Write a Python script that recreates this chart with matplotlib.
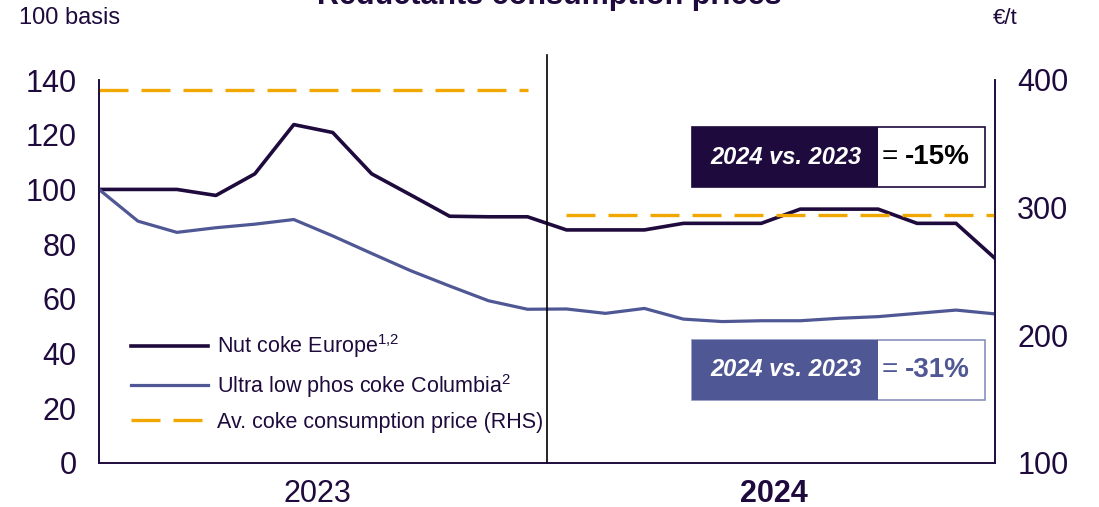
"""
Reductants consumption prices: indexed coke prices vs. average consumption price
"""
import matplotlib
matplotlib.use("Agg")
import matplotlib.pyplot as plt
from matplotlib.patches import Rectangle

plt.rcParams['font.family'] = ['Liberation Sans', 'DejaVu Sans']

# Data
months = list(range(24))  # Jan 2023 .. Dec 2024
nut_coke_europe = [100, 100, 100, 97.8, 105.7, 123.7, 120.8, 105.7, 98, 90.2, 90, 90,
                   85.2, 85.2, 85.2, 87.6, 87.6, 87.6, 92.8, 92.8, 92.8, 87.6, 87.6, 74.8]
ulp_coke_columbia = [100, 88.4, 84.3, 86, 87.3, 89, 83, 76.6, 70.3, 64.7, 59.3, 56.2,
                     56.3, 54.7, 56.5, 52.6, 51.7, 52, 52, 52.9, 53.5, 54.7, 55.9, 54.5]
avg_price_2023 = 392
avg_price_2024 = 294.5
years = ['2023', '2024']
change_nut = '-15%'
change_ulp = '-31%'

DARK = '#1E0A3C'
BLUE = '#4F5794'
ORANGE = '#F0A800'

fig = plt.figure(figsize=(10.99, 5.07), dpi=100)
ax = fig.add_axes([99 / 1099, 1 - 463 / 507, 896 / 1099, 383 / 507])
ax2 = ax.twinx()

ax.plot(months, nut_coke_europe, color=DARK, lw=2.6, label=r'Nut coke Europe$^{\mathregular{1{,}2}}$',
        zorder=3)
ax.plot(months, ulp_coke_columbia, color=BLUE, lw=2.3, label=r'Ultra low phos coke Columbia$^{\mathregular{2}}$',
        zorder=3)
# dashed RHS series, one level per year
ax2.plot(months[:12], [avg_price_2023] * 12, color=ORANGE, lw=2.4, dashes=[8.7, 3.9],
         label='Av. coke consumption price (RHS)')
ax2.plot(months[12:], [avg_price_2024] * 12, color=ORANGE, lw=2.4, dashes=[8.7, 3.9])

ax.set_xlim(0, 23)
ax.set_ylim(0, 140)
ax2.set_ylim(100, 400)
ax.set_yticks(range(0, 141, 20))
ax2.set_yticks([100, 200, 300, 400])
ax.set_xticks([])

for a in (ax, ax2):
    a.tick_params(axis='y', length=0, labelsize=22, labelcolor=DARK)
    for s in a.spines.values():
        s.set_color(DARK)
        s.set_linewidth(1.2)
    a.spines['top'].set_visible(False)
ax.tick_params(axis='y', pad=16)
ax2.tick_params(axis='y', pad=16)

# year divider
ax.axvline(11.5, ymin=0, ymax=1.065, color='black', lw=1.2, clip_on=False, zorder=4)

ax.text(5.62, -0.08, years[0], transform=ax.get_xaxis_transform(), ha='center', va='center',
        fontsize=22, color=DARK)
ax.text(17.33, -0.08, years[1], transform=ax.get_xaxis_transform(), ha='center', va='center',
        fontsize=22, color=DARK, fontweight='bold')

fig.text(19 / 1099, 1 - 18 / 507, '100 basis', ha='left', va='center', fontsize=17, color=DARK)
fig.text(993 / 1099, 1 - 18 / 507, '€/t', ha='left', va='center', fontsize=16, color=DARK)
fig.text(0.5, 1 - 4 / 507, 'Reductants consumption prices', ha='center', va='baseline',
         fontsize=22, fontweight='bold', color=DARK)

# legend
h1, l1 = ax.get_legend_handles_labels()
h2, l2 = ax2.get_legend_handles_labels()
ax.legend(h1 + h2, l1 + l2, loc='upper left', bbox_to_anchor=(0.014, 0.392), frameon=False,
          fontsize=15.5, labelcolor=DARK, handlelength=3.6, handletextpad=0.4, labelspacing=0.55)


def change_box(y0, y1, fill, edge, value_color, value):
    x0, xm, x1 = (692 - 99) / 896, (878 - 99) / 896, (985 - 99) / 896
    ax.add_patch(Rectangle((x0, y0), x1 - x0, y1 - y0, transform=ax.transAxes, facecolor='white',
                           edgecolor=edge, lw=1.2, zorder=5, clip_on=False))
    ax.add_patch(Rectangle((x0, y0), xm - x0, y1 - y0, transform=ax.transAxes, facecolor=fill,
                           edgecolor='none', zorder=6, clip_on=False))
    ym = (y0 + y1) / 2
    ax.text((786 - 99) / 896, ym, '2024 vs. 2023', transform=ax.transAxes, ha='center', va='center',
            fontsize=17, color='white', fontweight='bold', style='italic', zorder=7)
    ax.text((882 - 99) / 896, ym, '=', transform=ax.transAxes, ha='left', va='center',
            fontsize=20, color=value_color, zorder=7)
    ax.text((905 - 99) / 896, ym, value, transform=ax.transAxes, ha='left', va='center',
            fontsize=20, color=value_color, fontweight='bold', zorder=7)


change_box((463 - 187) / 383, (463 - 127) / 383, DARK, DARK, 'black', change_nut)
change_box((463 - 400) / 383, (463 - 340) / 383, BLUE, '#8A90BE', BLUE, change_ulp)

fig.savefig('out.png', dpi=100)
